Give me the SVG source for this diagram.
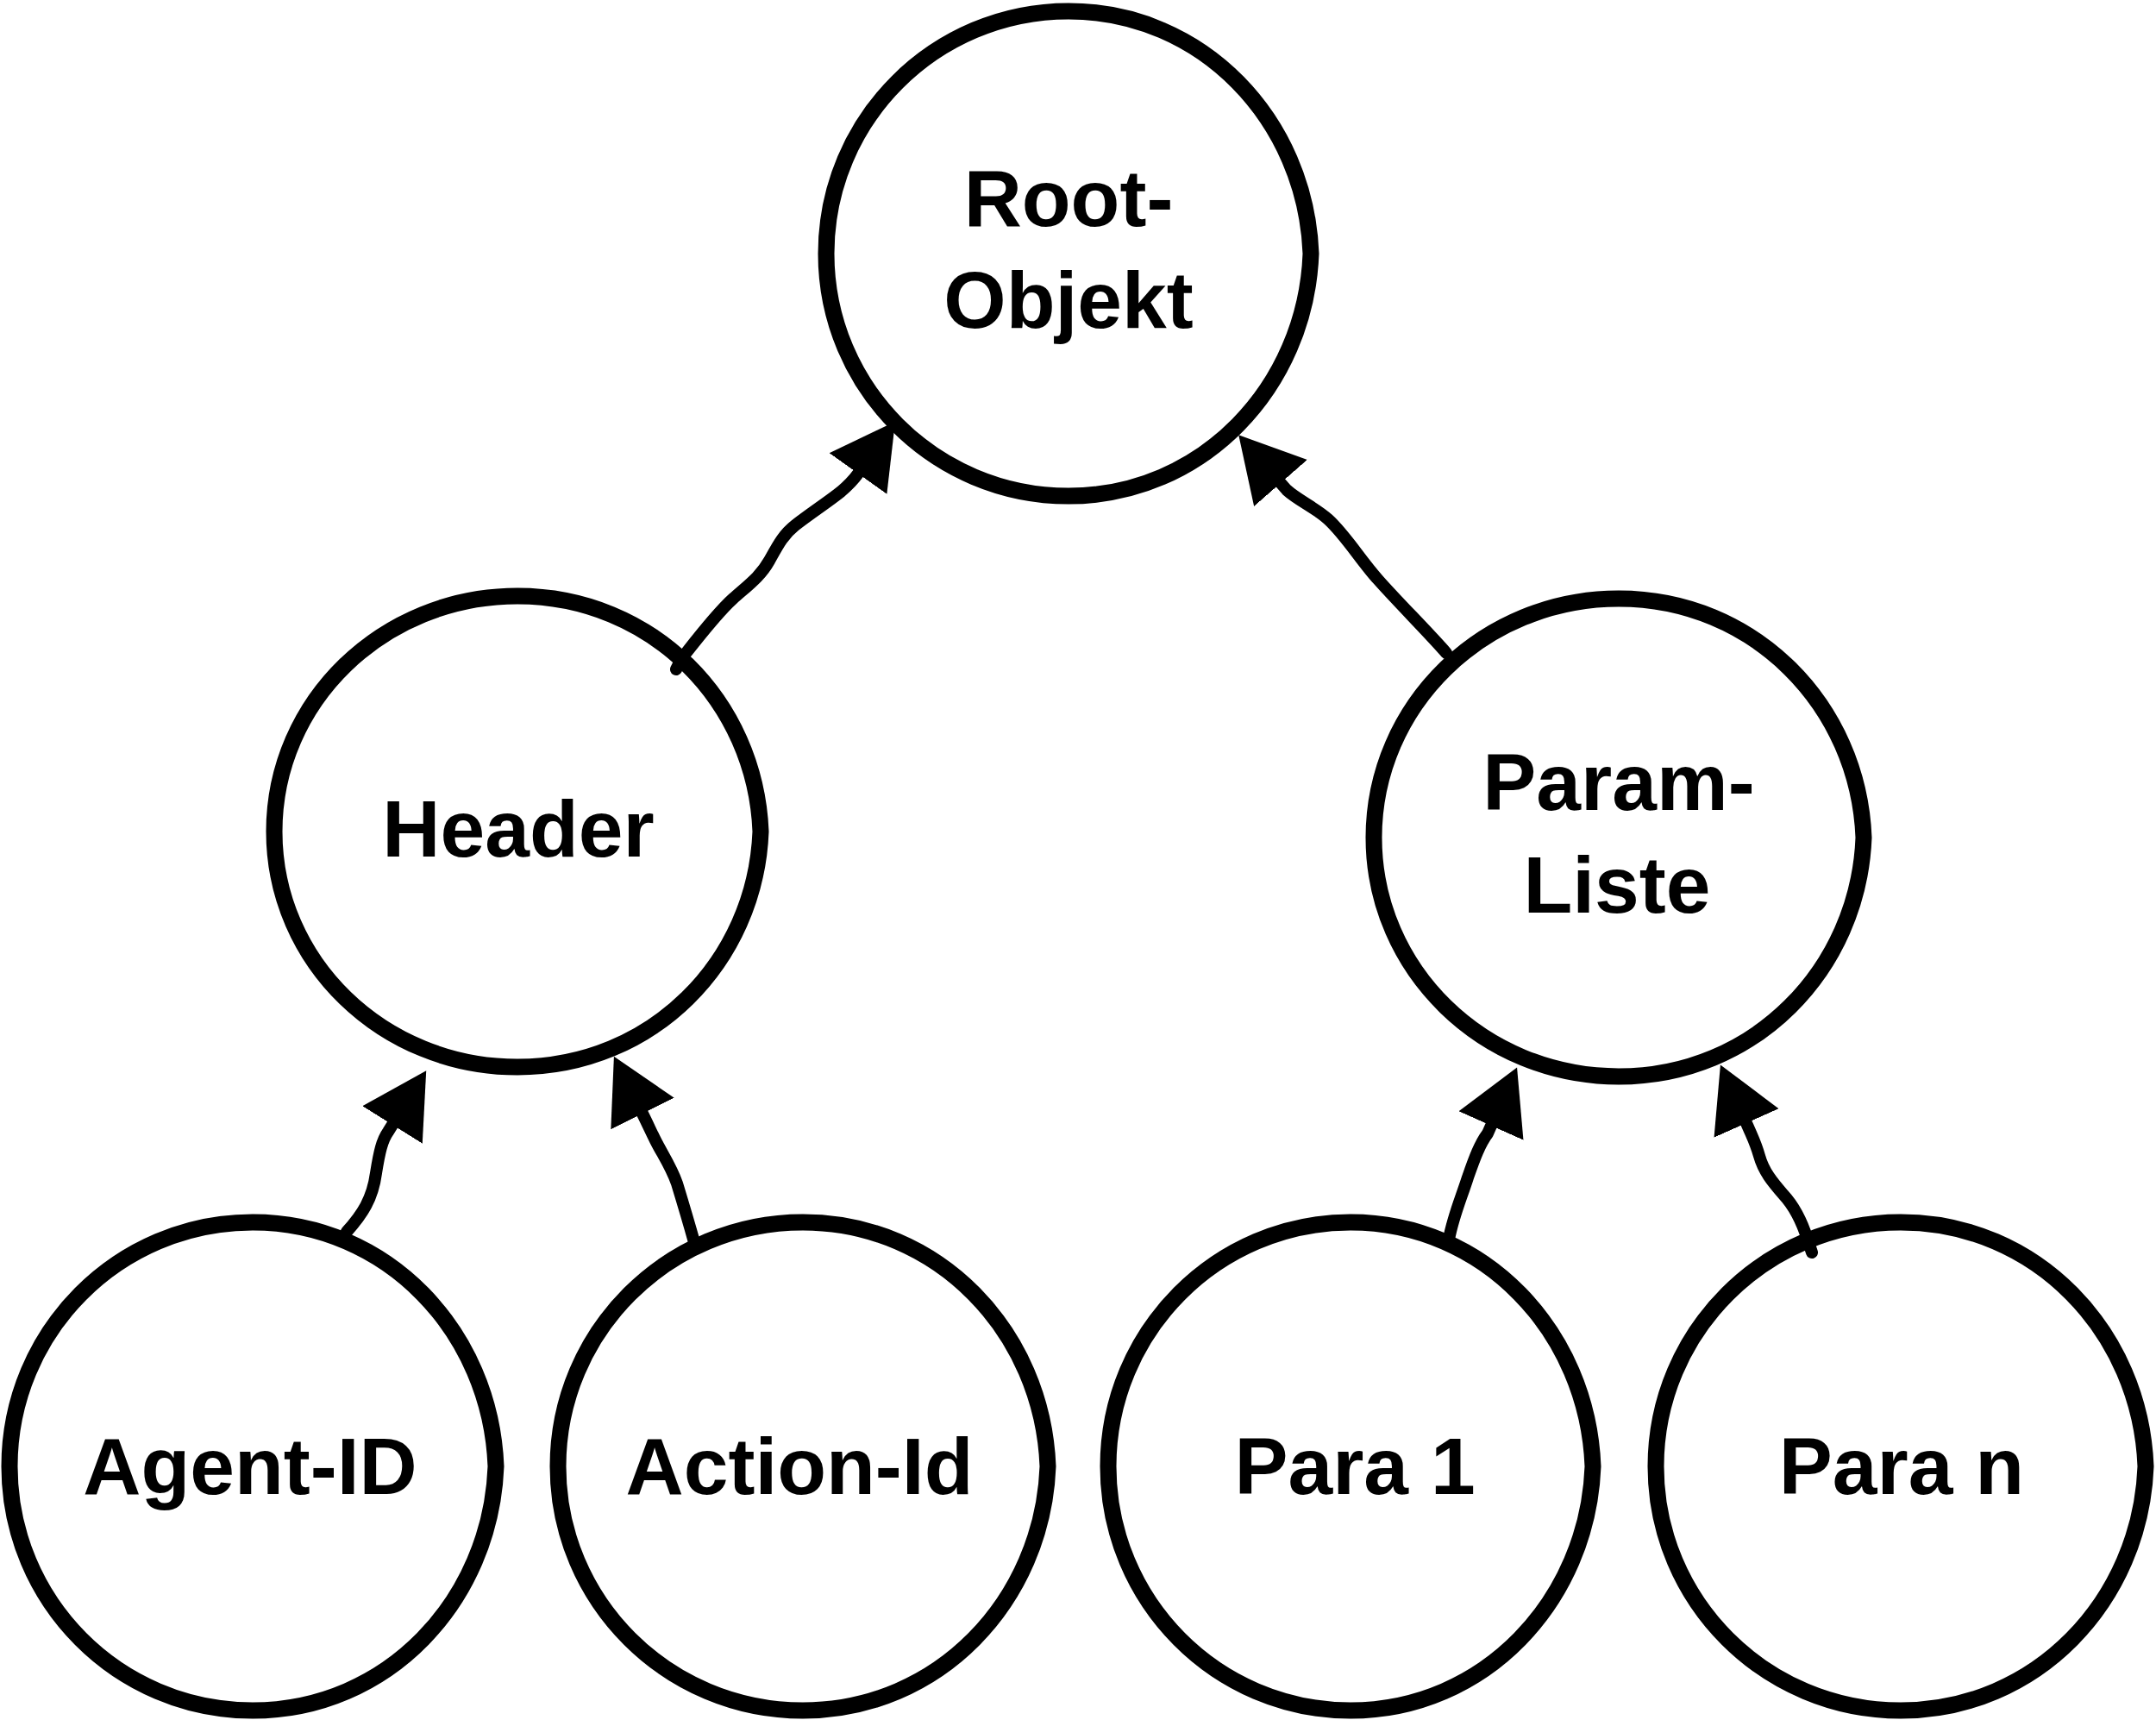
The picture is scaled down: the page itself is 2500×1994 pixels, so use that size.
<svg xmlns="http://www.w3.org/2000/svg" width="2500" height="1994" viewBox="0 0 2500 1994">
<style>
.node{fill:#fff;stroke:#000;stroke-width:19;stroke-linejoin:miter;stroke-miterlimit:20}
.edge{fill:none;stroke:#000;stroke-width:14;stroke-linecap:round;stroke-linejoin:round;marker-end:url(#arrow)}
.lbl{font-family:"Liberation Sans",Arial,sans-serif;font-weight:bold;font-size:93px;fill:#000;text-anchor:middle}
</style>
<defs>
<marker id="arrow" markerUnits="userSpaceOnUse" viewBox="0 -42 76 84" markerWidth="76" markerHeight="84" refX="0" refY="0" orient="auto">
<path d="M0,-41 L74,0 L0,41 Z" fill="#000"/>
</marker>
</defs>
<rect width="2500" height="1994" fill="#fff"/>
<g id="node-root">
<path class="node" d="M1520,294 C1514,449 1394,575 1239,575 C1084,575 958,449 958,294 C958,139 1084,13 1239,13 C1394,13 1514,139 1520,294 Z"/>
<text class="lbl" x="1239" y="262">Root-</text>
<text class="lbl" x="1239" y="380">Objekt</text>
</g>
<g id="node-header">
<path class="node" d="M882,964 C876,1115 756,1237 600,1237 C444,1237 318,1115 318,964 C318,813 444,691 600,691 C756,691 876,813 882,964 Z"/>
<text class="lbl" x="601" y="993">Header</text>
</g>
<g id="node-paramliste">
<path class="node" d="M2161,971 C2155,1124 2034,1248 1877,1248 C1720,1248 1593,1124 1593,971 C1593,818 1720,694 1877,694 C2034,694 2155,818 2161,971 Z"/>
<text class="lbl" x="1877" y="939">Param-</text>
<text class="lbl" x="1875" y="1058">Liste</text>
</g>
<g id="node-agentid">
<path class="node" d="M575,1700 C569,1856 449,1983 293,1983 C137,1983 11,1856 11,1700 C11,1544 137,1417 293,1417 C449,1417 569,1544 575,1700 Z"/>
<text class="lbl" x="290" y="1732">Agent-ID</text>
</g>
<g id="node-actionid">
<path class="node" d="M1215,1700 C1209,1856 1088,1983 931,1983 C774,1983 647,1856 647,1700 C647,1544 774,1417 931,1417 C1088,1417 1209,1544 1215,1700 Z"/>
<text class="lbl" x="927" y="1732">Action-Id</text>
</g>
<g id="node-para1">
<path class="node" d="M1847,1700 C1841,1856 1721,1983 1566,1983 C1411,1983 1285,1856 1285,1700 C1285,1544 1411,1417 1566,1417 C1721,1417 1841,1544 1847,1700 Z"/>
<text class="lbl" x="1571" y="1732">Para 1</text>
</g>
<g id="node-paran">
<path class="node" d="M2488,1700 C2482,1856 2361,1983 2204,1983 C2047,1983 1920,1856 1920,1700 C1920,1544 2047,1417 2204,1417 C2361,1417 2482,1544 2488,1700 Z"/>
<text class="lbl" x="2205" y="1732">Para n</text>
</g>
<g id="connectors">
<path class="edge" d="M784,776 L790,764 C805,745 830,712 850,694 C868,678 882,668 892,650 C902,632 908,620 922,609 C940,595 960,582 975,570 C982,564 990,556 995,549"/>
<path class="edge" d="M1677,757 C1660,737 1620,697 1598,672 C1578,650 1560,620 1540,602 C1526,589 1505,580 1492,568 L1485,560"/>
<path class="edge" d="M402,1428 C420,1408 432,1390 436,1360 C440,1335 443,1322 450,1312 L455,1304"/>
<path class="edge" d="M805,1440 C798,1415 792,1395 785,1372 C778,1352 768,1338 760,1322 C755,1312 751,1303 745,1291"/>
<path class="edge" d="M1680,1437 C1685,1410 1694,1390 1702,1365 C1710,1342 1716,1326 1725,1314 L1729,1305"/>
<path class="edge" d="M2101,1452 L2096,1437 C2090,1418 2082,1400 2068,1385 C2055,1370 2045,1358 2040,1340 C2036,1326 2032,1318 2029,1311 L2025,1302"/>
</g>
</svg>
